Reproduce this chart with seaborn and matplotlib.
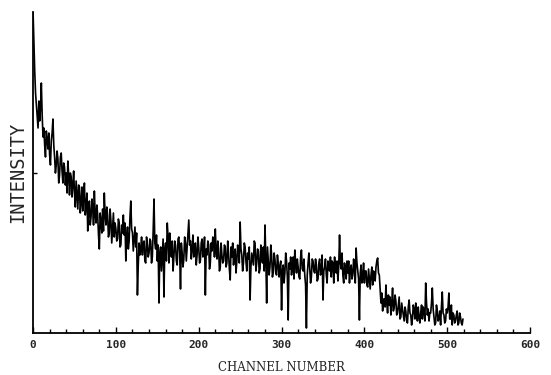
import numpy as np
import pandas as pd
import matplotlib
matplotlib.use("Agg")
import matplotlib.pyplot as plt
from matplotlib.ticker import MultipleLocator
import seaborn as sns

# Intensities (arbitrary units), even channels 0,2,4,...
intensity_even = [
    321, 262, 228, 205, 212,  250, 196, 188, 202, 184,
    178, 192, 214, 176, 168,  174, 158, 180, 150, 166,
    160, 172, 138, 156, 148,  140, 152, 124, 146, 130,
    122, 150, 126, 102, 132,  116, 126, 142, 110, 118,
    84, 112, 124, 140, 108,   118, 100, 112, 106, 96,
    104, 94, 110, 88, 100,    98, 72, 106, 92, 132,
    100, 94, 86, 38, 90,      84, 78, 92, 70, 88,
    80, 92, 76, 134, 84,      72, 30, 86, 78, 36,
    90, 110, 70, 84, 92,      76, 88, 68, 96, 44,
    80, 74, 90, 86, 113,      92, 84, 76, 90, 78,
    86, 72, 94, 80, 38,       78, 88, 70, 82, 92,
    104, 74, 84, 66, 78,      72, 86, 70, 80, 53,
    76, 68, 84, 72, 80,       111, 78, 70, 86, 62,
    74, 33, 80, 68, 90,       70, 82, 64, 76, 86,
    108, 30, 72, 66, 78,      62, 74, 58, 70, 66,
    23, 68, 60, 72, 13,       64, 58, 76, 83, 60,
    66, 54, 83, 62, 58,       5, 70, 64, 56, 72,
    60, 68, 54, 74, 62,       33, 66, 58, 72, 62,
    56, 70, 76, 60, 52,       98, 64, 58, 70, 54,
    60, 50, 68, 58, 64,       85, 62, 13, 68, 56,
    50, 62, 46, 54, 58,       48, 60, 66, 75, 58,
    30, 22, 34, 48, 20,       28, 18, 45, 26, 32,
    20, 36, 16, 24, 12,       22, 10, 33, 18, 14,
    24, 30, 12, 16, 20,       14, 22, 50, 18, 12,
    20, 45, 16, 10, 22,       14, 8, 41, 18, 12,
    20, 40, 14, 8, 18,        12, 22, 10, 16, 8,
]
# Intensities for the odd channels 1,3,5,...
intensity_odd = [
    290, 240, 215, 232, 225,  218, 205, 176, 194, 200,
    168, 200, 188, 160, 182,  150, 176, 162, 170, 148,
    140, 158, 160, 136, 162,  126, 138, 148, 120, 146,
    138, 118, 140, 124, 108,  134, 108, 118, 128, 98,
    120, 100, 102, 118, 126,  96, 124, 90, 120, 110,
    92, 114, 86, 108, 118,    110, 96, 84, 116, 104,
    82, 106, 100, 68, 78,     96, 90, 72, 96, 76,
    94, 70, 102, 90, 98,      88, 80, 62, 94, 84,
    72, 96, 100, 76, 62,      92, 72, 94, 80, 90,
    66, 96, 72, 100, 88,      74, 98, 88, 68, 96,
    70, 90, 76, 96, 84,       92, 64, 90, 96, 76,
    82, 92, 62, 90, 70,       88, 66, 92, 64, 86,
    90, 80, 60, 88, 70,       84, 62, 90, 72, 80,
    86, 66, 74, 92, 62,       84, 60, 88, 70, 62,
    74, 86, 58, 88, 56,       80, 60, 78, 56, 72,
    62, 50, 80, 56, 70,       76, 66, 54, 70, 74,
    56, 76, 64, 74, 48,       58, 80, 50, 74, 62,
    74, 52, 70, 58, 78,       62, 74, 50, 66, 76,
    72, 50, 64, 72, 66,       70, 80, 50, 64, 72,
    72, 64, 54, 74, 50,       70, 54, 60, 50, 70,
    62, 48, 64, 44, 66,       62, 52, 72, 60, 44,
    40, 34, 26, 30, 38,       36, 30, 22, 38, 18,
    28, 14, 30, 18, 26,       12, 26, 20, 8, 28,
    14, 20, 26, 10, 28,       26, 12, 30, 24, 20,
    30, 24, 8, 28, 12,        22, 26, 20, 10, 24,
    26, 14, 28, 20, 10,       18, 8, 20, 10, 14,
]
channels_even = [2 * i for i in range(len(intensity_even))]
channels_odd = [2 * i + 1 for i in range(len(intensity_odd))]
x_tick_labels = ["0", "100", "200", "300", "400", "500", "600"]

df = pd.DataFrame({
    "channel": channels_even + channels_odd,
    "intensity": intensity_even + intensity_odd,
}).sort_values("channel")

sns.set_theme(style="white")
plt.rcParams["font.family"] = ["DejaVu Sans Mono", "DejaVu Sans"]

fig = plt.figure(figsize=(5.51, 3.75), dpi=100)
ax = fig.add_axes([0.060, 0.112, 0.902, 0.856])

sns.lineplot(data=df, x="channel", y="intensity", ax=ax, color="black",
             linewidth=1.2, estimator=None)

ax.set_xlim(0, 600)
ax.set_ylim(0, 321)
for s in ("top", "right"):
    ax.spines[s].set_visible(False)
for s in ("left", "bottom"):
    ax.spines[s].set_color("black")
    ax.spines[s].set_linewidth(1.3)

ax.set_xticks([int(t) for t in x_tick_labels])
ax.set_xticklabels(x_tick_labels, fontsize=8, fontweight="bold")
ax.xaxis.set_minor_locator(MultipleLocator(20))
ax.tick_params(axis="x", which="major", direction="in", length=4, width=1,
               color="black", pad=5, bottom=True)
ax.tick_params(axis="x", which="minor", direction="in", length=3, width=1,
               color="black", bottom=True)
ax.set_yticks([160])
ax.set_yticklabels([])
ax.tick_params(axis="y", direction="in", length=3, width=1, color="black", left=True)

ax.set_xlabel("CHANNEL NUMBER", fontsize=8.5, family=["DejaVu Serif", "DejaVu Sans"],
              labelpad=8)
ax.set_ylabel("INTENSITY", fontsize=13.5, labelpad=1)

fig.savefig("out.png", dpi=100)
